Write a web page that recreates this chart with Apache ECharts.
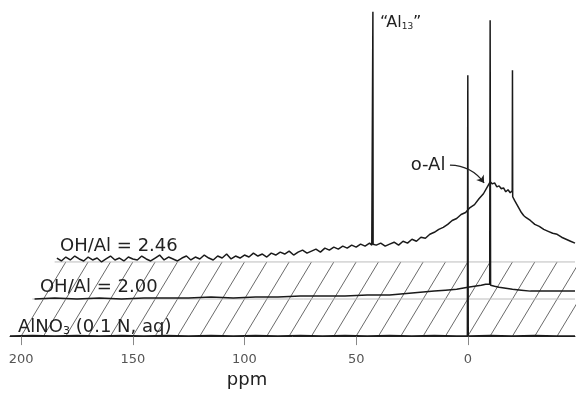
<!DOCTYPE html>
<html>
<head>
<meta charset="utf-8">
<script src="https://cdn.jsdelivr.net/npm/echarts@6/dist/echarts.min.js"></script>
<style>html,body{margin:0;padding:0;background:#fff}#c{width:579px;height:394px}</style>
</head>
<body>
<div id="c"></div>
<script>
// ---- data (ppm, intensity) ----
const ppmTicks = [0, 50, 100, 150, 200];
const hatchPpm = [200,190,180,170,160,150,140,130,120,110,100,90,80,70,60,50,40,30,20,10,0,-10,-20,-30,-40];
const traceNames = ['AlNO{s|3} (0.1 N, aq)', 'OH/Al = 2.00', 'OH/Al = 2.46'];

const alno3 = [[205,0],[195,0.5],[185,0],[175,0.5],[165,0],[155,0.5],[145,0],[135,0.5],[125,0],[115,0.5],[105,0],[95,0.5],[85,0],[75,0.5],[65,0],[55,0.5],[45,0],[35,0.5],[25,0],[15,0.5],[5,0],[0.2,0],[0,264],[-0.2,0],[-10,0.5],[-20,0],[-30,0.5],[-40,0],[-48,0]];

const oh200 = [[204,0],[195,1],[185,0],[175,1],[165,0],[155,1],[145,1],[135,1],[125,2],[115,1],[105,2],[95,2],[85,3],[75,3],[65,3],[55,4],[45,4],[40,5],[35,6],[30,7],[25,8],[20,9],[15,10],[10,12],[7,13],[4,14],[2,15],[0.2,15],[0,282],[-0.2,14],[-2,13],[-4,12],[-7,11],[-10,10],[-14,9],[-18,8],[-25,8],[-38,8]];

const oh246 = [[204,4],[202,1],[200,5],[198,2],[196,6],[194,3],[192,1],[190,5],[188,2],[186,4],[184,0],[182,3],[180,6],[178,2],[176,4],[174,1],[172,5],[170,3],[168,2],[166,6],[164,3],[162,1],[160,4],[158,7],[156,2],[154,5],[152,3],[150,1],[148,4],[146,6],[144,2],[142,5],[140,3],[138,7],[136,4],[134,2],[132,6],[130,4],[128,8],[126,3],[124,6],[122,4],[120,7],[118,5],[116,9],[114,6],[112,8],[110,5],[108,9],[106,7],[104,10],[102,8],[100,11],[98,7],[96,10],[94,12],[92,9],[90,11],[88,13],[86,10],[84,14],[82,12],[80,15],[78,13],[76,16],[74,14],[72,17],[70,15],[68,18],[66,16],[64,19],[63,17],[62.6,18],[62.5,253],[62.4,18],[61,17],[59,19],[57,16],[55,18],[53,20],[51,17],[49,21],[47,19],[45,23],[43,21],[41,25],[39,24],[37,28],[35,30],[33,33],[31,35],[29,38],[27,42],[25,44],[23,48],[21,50],[19,55],[17,58],[15,64],[13,69],[11,77],[10,81],[9,79],[8,80],[7,76],[6,77],[5,74],[4,75],[3,71],[2,73],[1,70],[0.1,72],[0,194],[-0.1,66],[-1,62],[-2,58],[-3,54],[-4,50],[-5,47],[-6,45],[-8,42],[-10,38],[-12,36],[-14,33],[-16,31],[-18,29],[-20,28],[-22,25],[-24,23],[-26,21],[-28,19]];

// ---- oblique stacking geometry ----
const planeShiftPpm = 10;
const planeRise = 37.5;
const shift = (data, k) => data.map(d => [d[0] - k * planeShiftPpm, d[1] + k * planeRise]);

const FONT = 'DejaVu Sans';
const traceColor = '#1a1a1a';
const series = [];

hatchPpm.forEach(p => {
  series.push({
    type: 'line', silent: true, symbol: 'none', clip: true, z: 1,
    lineStyle: { color: '#444', width: 0.8 },
    data: [[p, 0], [p - 2 * planeShiftPpm, 2 * planeRise]]
  });
});
[1, 2].forEach(k => {
  series.push({
    type: 'line', silent: true, symbol: 'none', clip: true, z: 1,
    lineStyle: { color: '#bdbdbd', width: 1 },
    data: [[205 - k * planeShiftPpm, k * planeRise], [-48, k * planeRise]]
  });
});

function nameLabel(text, coord) {
  return {
    symbol: 'circle', symbolSize: 0,
    label: {
      show: true, position: 'right', distance: 0,
      formatter: text, fontFamily: FONT, fontSize: 18, color: '#222',
      rich: { s: { fontFamily: FONT, fontSize: 11, color: '#222', verticalAlign: 'bottom', padding: [8, 0, 0, 0] } }
    },
    data: [{ coord: coord }]
  };
}

const traces = [alno3, oh200, oh246];
const nameCoords = [[201.4, 9], [191.6, 49], [182.6, 91]];
traces.forEach((t, k) => {
  const s = {
    type: 'line', name: traceNames[k], symbol: 'none', clip: true, z: 3,
    lineStyle: { color: traceColor, width: 1.5 },
    data: shift(t, k),
    markPoint: nameLabel(traceNames[k], nameCoords[k])
  };
  if (k === 2) {
    s.markPoint.data.push({
      coord: [39.3, 317],
      label: {
        formatter: '\u201CAl{s|13}\u201D', fontSize: 16,
        rich: { s: { fontFamily: FONT, fontSize: 9, color: '#222', verticalAlign: 'bottom', padding: [7, 0, 0, 0] } }
      }
    });
    s.markPoint.data.push({
      coord: [25.6, 173],
      label: { formatter: 'o-Al' }
    });
  }
  series.push(s);
});

// curved arrow pointing at the o-Al hump
series.push({
  type: 'lines', coordinateSystem: 'cartesian2d', silent: true, z: 4,
  symbol: ['none', 'arrow'], symbolSize: 7,
  lineStyle: { color: '#222', width: 1.2, opacity: 1, curveness: 0.25 },
  data: [{ coords: [[8.0, 173], [-7.3, 155]] }]
});

const chart = echarts.init(document.getElementById('c'));
chart.setOption({
  animation: false,
  backgroundColor: '#fff',
  grid: { left: 10, right: 4, top: 0, bottom: 54, containLabel: false },
  xAxis: {
    type: 'value', min: -48, max: 205, inverse: true,
    axisLine: { show: true, lineStyle: { color: '#222', width: 1 } },
    axisTick: { show: true, length: 9, customValues: ppmTicks, lineStyle: { color: '#888', width: 1 } },
    axisLabel: { customValues: ppmTicks, fontFamily: FONT, fontSize: 13, color: '#555', margin: 17 },
    splitLine: { show: false },
    name: 'ppm', nameLocation: 'middle', nameGap: 33,
    nameTextStyle: { fontFamily: FONT, fontSize: 18, color: '#222', padding: [0, 91, 0, 0] }
  },
  yAxis: { type: 'value', min: 0, max: 340, show: false },
  series: series
});
</script>
</body>
</html>
